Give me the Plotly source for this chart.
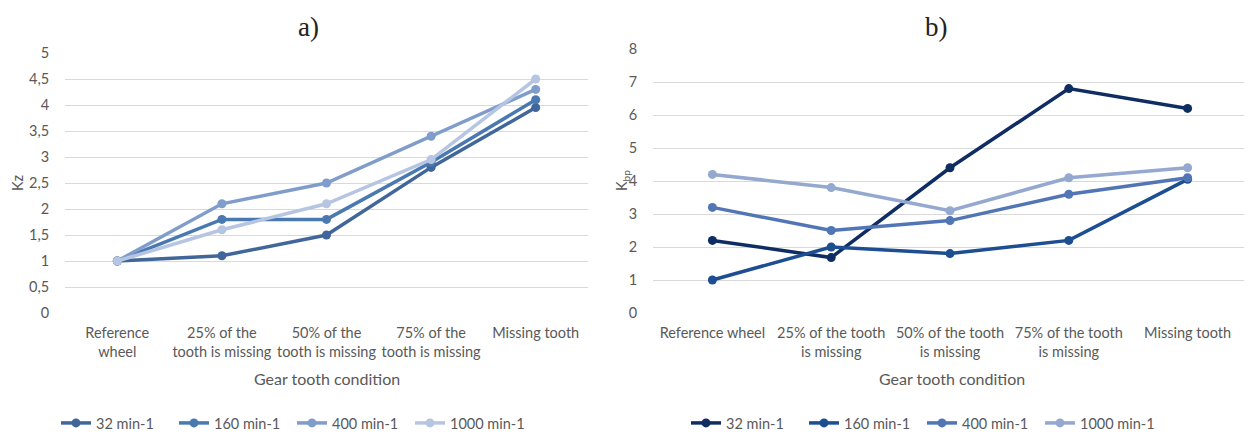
import plotly.graph_objects as go

categories_a = ["Reference<br>wheel", "25% of the<br>tooth is missing", "50% of the<br>tooth is missing",
                "75% of the<br>tooth is missing", "Missing tooth"]
categories_b = ["Reference wheel", "25% of the tooth<br>is missing", "50% of the tooth<br>is missing",
                "75% of the tooth<br>is missing", "Missing tooth"]
series_names = ["32 min-1", "160 min-1", "400 min-1", "1000 min-1"]

kz_32 = [1.0, 1.1, 1.5, 2.8, 3.95]
kz_160 = [1.0, 1.8, 1.8, 2.9, 4.1]
kz_400 = [1.0, 2.1, 2.5, 3.4, 4.3]
kz_1000 = [1.0, 1.6, 2.1, 2.95, 4.5]

kbp_32 = [2.2, 1.68, 4.4, 6.8, 6.2]
kbp_160 = [1.0, 2.0, 1.8, 2.2, 4.05]
kbp_400 = [3.2, 2.5, 2.8, 3.6, 4.1]
kbp_1000 = [4.2, 3.8, 3.1, 4.1, 4.4]

ticks_a = [0, 0.5, 1, 1.5, 2, 2.5, 3, 3.5, 4, 4.5, 5]
ticklabels_a = ["0", "0,5", "1", "1,5", "2", "2,5", "3", "3,5", "4", "4,5", "5"]
ticks_b = [0, 1, 2, 3, 4, 5, 6, 7, 8]

colors_a = ["#41679A", "#4A78B0", "#7F9CCB", "#B5C5E2"]
colors_b = ["#0F2D62", "#1D4E92", "#5275B5", "#94A8D0"]

FONT = "Lato, Open Sans, sans-serif"
GREY = "#595959"

# the page body has an 8px default margin; size the figure to fill the rest of the window
OFF = 8
W, H = 1252 - OFF, 432 - OFF
def px(x):
    return (x - OFF) / W
def py(y):
    return 1 - (y - OFF) / H

fig = go.Figure()
xi = list(range(5))

for name, vals, col in zip(series_names, [kz_32, kz_160, kz_400, kz_1000], colors_a):
    fig.add_trace(go.Scatter(x=xi, y=vals, name=name, mode="lines+markers",
                             line=dict(color=col, width=3.5), marker=dict(color=col, size=9),
                             xaxis="x", yaxis="y", legend="legend"))
for name, vals, col in zip(series_names, [kbp_32, kbp_160, kbp_400, kbp_1000], colors_b):
    fig.add_trace(go.Scatter(x=xi, y=vals, name=name, mode="lines+markers",
                             line=dict(color=col, width=3.5), marker=dict(color=col, size=9),
                             xaxis="x2", yaxis="y2", legend="legend2"))

axis_common = dict(showline=False, zeroline=False, automargin=False,
                   tickfont=dict(family=FONT, size=14.5, color=GREY))

legend_common = dict(orientation="h", xref="container", yref="container", xanchor="left",
                     yanchor="middle", font=dict(family=FONT, size=14.5, color=GREY),
                     entrywidth=73, entrywidthmode="pixels", itemwidth=30,
                     bgcolor="rgba(0,0,0,0)")

fig.update_layout(
    width=W, height=H,
    margin=dict(l=0, r=0, t=0, b=0, autoexpand=False),
    paper_bgcolor="white", plot_bgcolor="white",
    font=dict(family=FONT, color=GREY, size=14),
    xaxis=dict(domain=[px(65), px(588)], range=[-0.5, 4.5], tickvals=xi, ticktext=categories_a,
               showgrid=False, ticks="outside", ticklen=7, tickcolor="rgba(0,0,0,0)",
               anchor="y", **axis_common),
    yaxis=dict(domain=[py(313), py(53)], range=[0, 5], tickvals=ticks_a, ticktext=ticklabels_a,
               showgrid=True, gridcolor="#D9D9D9", gridwidth=1, ticks="outside", ticklen=12,
               tickcolor="rgba(0,0,0,0)", anchor="x", **axis_common),
    xaxis2=dict(domain=[px(653), px(1247)], range=[-0.5, 4.5], tickvals=xi, ticktext=categories_b,
                showgrid=False, ticks="outside", ticklen=7, tickcolor="rgba(0,0,0,0)",
                anchor="y2", **axis_common),
    yaxis2=dict(domain=[py(313), py(49)], range=[0, 8], tickvals=ticks_b,
                showgrid=True, gridcolor="#D9D9D9", gridwidth=1, ticks="outside", ticklen=12,
                tickcolor="rgba(0,0,0,0)", anchor="x2", **axis_common),
    legend=dict(x=px(56), y=py(423), **legend_common),
    legend2=dict(x=px(686), y=py(423), **legend_common),
    annotations=[
        dict(text="a)", x=px(308), y=py(27), xref="paper", yref="paper", showarrow=False,
             font=dict(family="Liberation Serif, Times New Roman, serif", size=27, color="#222222"),
             xanchor="center", yanchor="middle"),
        dict(text="b)", x=px(936), y=py(27), xref="paper", yref="paper", showarrow=False,
             font=dict(family="Liberation Serif, Times New Roman, serif", size=27, color="#222222"),
             xanchor="center", yanchor="middle"),
        dict(text="Kz", x=px(17), y=py(183), xref="paper", yref="paper", showarrow=False,
             textangle=-90, font=dict(family=FONT, size=14.5, color=GREY),
             xanchor="center", yanchor="middle"),
        dict(text="K<sub>bp</sub>", x=px(623), y=py(181), xref="paper", yref="paper", showarrow=False,
             textangle=-90, font=dict(family=FONT, size=14.5, color=GREY),
             xanchor="center", yanchor="middle"),
        dict(text="Gear tooth condition", x=px(327), y=py(378), xref="paper", yref="paper",
             showarrow=False, font=dict(family=FONT, size=16, color=GREY),
             xanchor="center", yanchor="middle"),
        dict(text="Gear tooth condition", x=px(952), y=py(378), xref="paper", yref="paper",
             showarrow=False, font=dict(family=FONT, size=16, color=GREY),
             xanchor="center", yanchor="middle"),
    ],
)

fig.write_html("out.html")
